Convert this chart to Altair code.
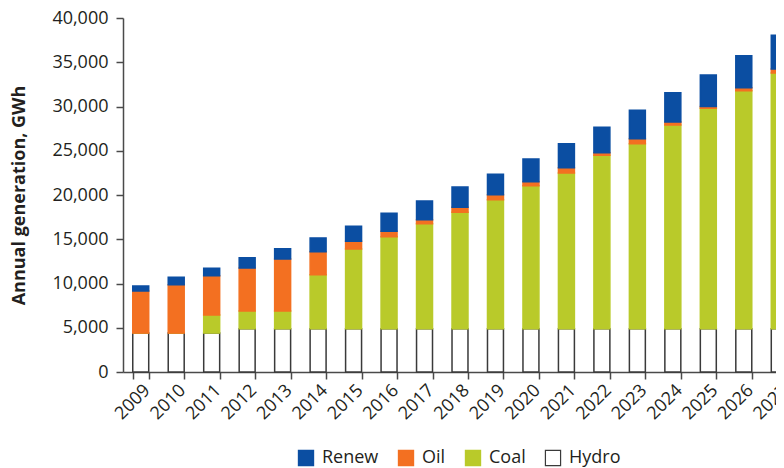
import altair as alt
import pandas as pd

years = [str(y) for y in range(2009, 2028)]
hydro = [4400, 4400, 4400, 4900, 4900, 4900, 4900, 4900, 4900, 4900,
         4900, 4900, 4900, 4900, 4900, 4900, 4900, 4900, 4900]
coal = [0, 0, 2040, 2000, 2000, 6100, 9000, 10390, 11860, 13140,
        14570, 16150, 17590, 19580, 20900, 23010, 24900, 26890, 28890]
oil = [4750, 5450, 4440, 4850, 5870, 2600, 870, 610, 450, 570,
       570, 450, 600, 300, 560, 340, 200, 340, 450]
renew = [570, 870, 830, 1170, 1170, 1550, 1690, 2030, 2110, 2290,
         2300, 2570, 2710, 2870, 3210, 3310, 3560, 3610, 3800]

sources = ["Renew", "Oil", "Coal", "Hydro"]
fills = ["#0B4EA2", "#F37021", "#B9CA2A", "#FFFFFF"]
strokes = ["#0B4EA2", "#F37021", "#B9CA2A", "#3A3A3A"]
stack_rank = {"Hydro": 0, "Coal": 1, "Oil": 2, "Renew": 3}

rows = []
series = {"Hydro": hydro, "Coal": coal, "Oil": oil, "Renew": renew}
for name, vals in series.items():
    for y, v in zip(years, vals):
        rows.append({"year": y, "source": name, "value": v, "ord": stack_rank[name]})
df = pd.DataFrame(rows)

text_color = "#231F20"
axis_color = "#4A4A4A"

legend_opts = dict(orient="none", direction="horizontal", legendX=174, legendY=431,
                   symbolType="square", symbolSize=230, symbolStrokeWidth=1.2,
                   columnPadding=17, labelOffset=7)

chart = alt.Chart(df).mark_bar(strokeWidth=1.5).encode(
    x=alt.X(
        "year:O",
        title=None,
        scale=alt.Scale(range=[0, 674], paddingInner=0.55, paddingOuter=0.275),
        axis=alt.Axis(labelAngle=-45, tickBand="extent", tickSize=7, labelPadding=2),
    ),
    y=alt.Y(
        "value:Q",
        stack="zero",
        title="Annual generation, GWh",
        scale=alt.Scale(domain=[0, 40000], nice=False),
        axis=alt.Axis(values=list(range(0, 40001, 5000)), format=",d", grid=False,
                      tickSize=7, labelPadding=8, titlePadding=23),
    ),
    color=alt.Color("source:N", title=None,
                    scale=alt.Scale(domain=sources, range=fills),
                    legend=alt.Legend(**legend_opts)),
    stroke=alt.Stroke("source:N", title=None,
                      scale=alt.Scale(domain=sources, range=strokes),
                      legend=alt.Legend(**legend_opts)),
    order=alt.Order("ord:Q", sort="ascending"),
).properties(
    width=653,
    height=354,
    autosize=alt.AutoSizeParams(type="none"),
    padding={"left": 115, "top": 10, "right": 0, "bottom": 96},
).configure_view(stroke=None).configure_axis(
    labelFont="Open Sans",
    labelFontSize=18,
    labelColor=text_color,
    titleFont="Open Sans",
    titleFontSize=18,
    titleFontWeight="bold",
    titleColor=text_color,
    domainColor=axis_color,
    tickColor=axis_color,
    domainWidth=1.5,
    tickWidth=1.5,
).configure_legend(
    labelFont="Open Sans",
    labelFontSize=18,
    labelColor=text_color,
)

chart.save("out.html", embed_options={"renderer": "svg", "actions": False})
